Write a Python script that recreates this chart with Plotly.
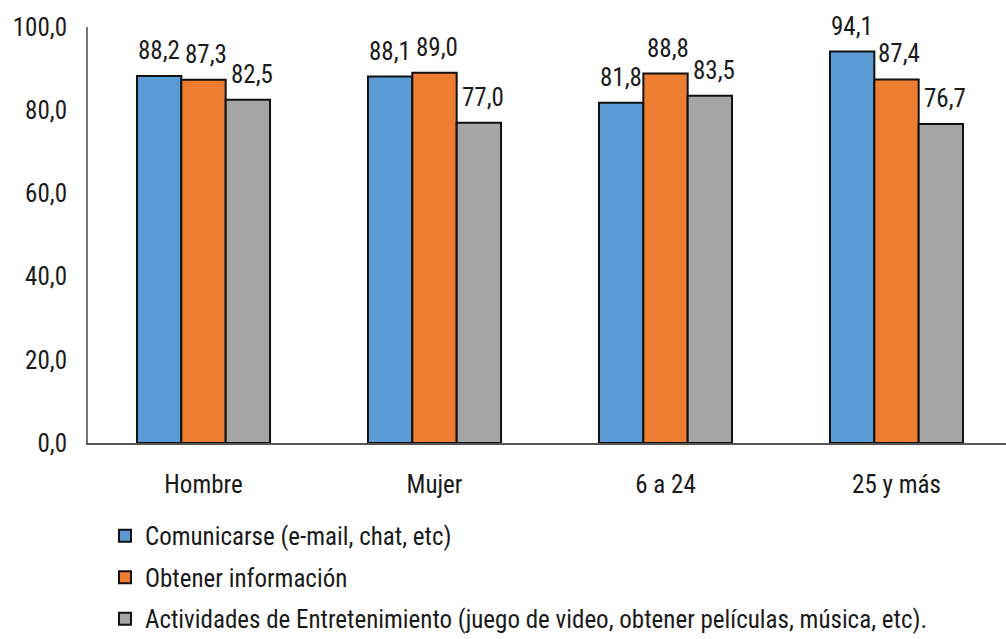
import plotly.graph_objects as go

categories = ["Hombre", "Mujer", "6 a 24", "25 y más"]
series_names = [
    "Comunicarse (e-mail, chat, etc)",
    "Obtener información",
    "Actividades de Entretenimiento (juego de video, obtener películas, música, etc).",
]
comunicarse = [88.2, 88.1, 81.8, 94.1]
obtener = [87.3, 89.0, 88.8, 87.4]
entretenimiento = [82.5, 77.0, 83.5, 76.7]
y_ticks = [0, 20, 40, 60, 80, 100]
y_tick_labels = ["0,0", "20,0", "40,0", "60,0", "80,0", "100,0"]

colors = ["#5B9BD5", "#ED7D31", "#A5A5A5"]
FONT = "Liberation Sans Narrow, Arial Narrow, Roboto Condensed, sans-serif"
FS = 25

# layout geometry
L, R, T, B = 88, 0, 27, 196
W, H = 1006, 639
x_range = [-0.5, 3.474]
bargap = 0.424
plot_w = W - L - R
cat_px = plot_w / (x_range[1] - x_range[0])
bar_px = cat_px * (1 - bargap) / 3

fig = go.Figure()
all_vals = [comunicarse, obtener, entretenimiento]
for i, (name, vals) in enumerate(zip(series_names, all_vals)):
    fig.add_trace(go.Bar(
        x=categories, y=vals, name=name, legendgroup=f"g{i}",
        marker=dict(color=colors[i], line=dict(color="#111111", width=2)),
    ))
    for c, v in zip(categories, vals):
        fig.add_annotation(
            x=c, y=v, xref="x", yref="y",
            text=f"{v:.1f}".replace(".", ","),
            showarrow=False, xanchor="center", yanchor="bottom",
            xshift=(i - 1) * bar_px + (i * 2), yshift=9,
            font=dict(family=FONT, size=FS, color="#1a1a1a"),
        )

fig.update_layout(
    width=W, height=H,
    margin=dict(l=L, r=R, t=T, b=B, autoexpand=False),
    paper_bgcolor="white", plot_bgcolor="white",
    barmode="group", bargap=bargap, bargroupgap=0,
    font=dict(family=FONT, size=FS, color="#1a1a1a"),
    showlegend=True,
    legend=dict(
        x=0.0185, y=-0.168, xanchor="left", yanchor="top",
        traceorder="grouped", tracegroupgap=6,
        font=dict(family=FONT, size=FS, color="#1a1a1a"),
        itemwidth=30,
    ),
)
fig.update_xaxes(
    range=x_range, showline=True, linecolor="#555555", linewidth=2,
    ticks="", ticklabelstandoff=18, automargin=False,
    tickfont=dict(family=FONT, size=FS, color="#1a1a1a"), showgrid=False,
)
fig.update_yaxes(
    range=[0, 100], tickvals=y_ticks, ticktext=y_tick_labels,
    showline=True, linecolor="#777777", linewidth=2, showgrid=False, zeroline=False,
    ticks="", ticklabelstandoff=14, automargin=False,
    tickfont=dict(family=FONT, size=FS, color="#1a1a1a"),
)
fig.write_html(
    "out.html",
    config={"displayModeBar": False},
    post_script="document.body.style.margin='0';document.body.style.overflow='hidden';",
)
